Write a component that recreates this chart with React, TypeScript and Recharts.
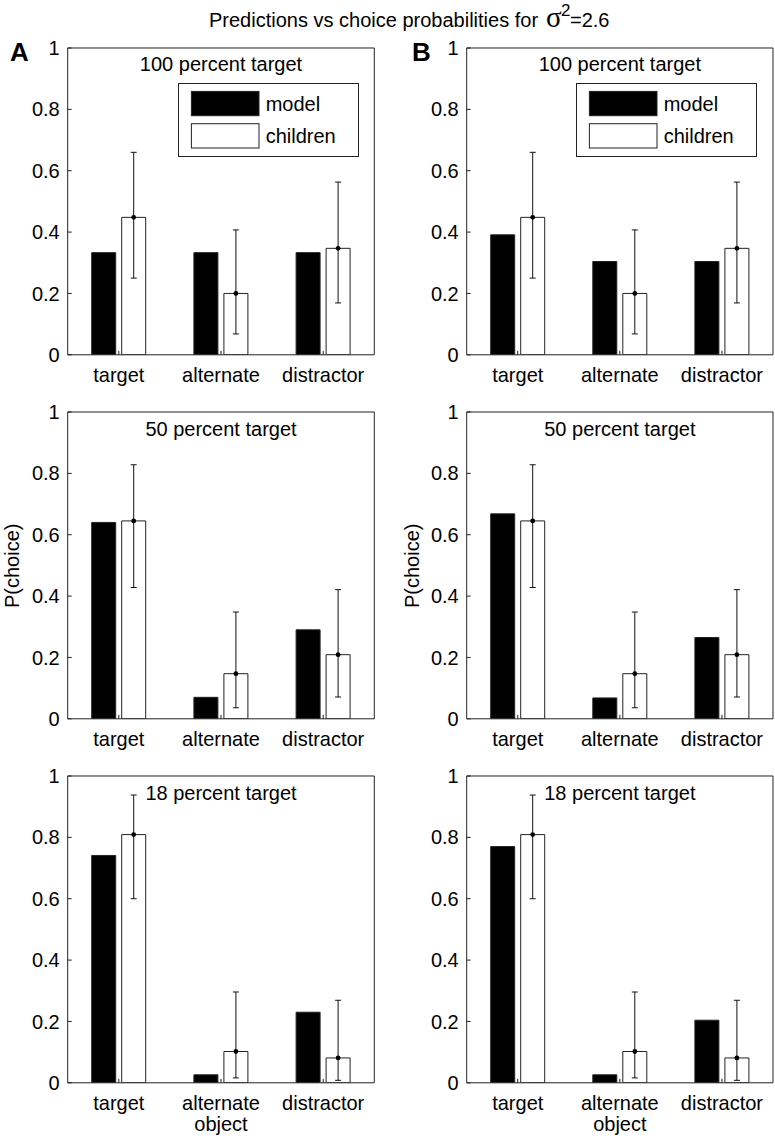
import React from 'react';
import { ComposedChart, Bar, Line, XAxis, YAxis, ErrorBar, LabelList, Legend } from 'recharts';

const FONT = '"Liberation Sans", Arial, Helvetica, sans-serif';

// ---------- data ----------
const categories = ['target', 'alternate', 'distractor'];
const categoriesLast = ['target', 'alternate\nobject', 'distractor'];
const yTicks = [0, 0.2, 0.4, 0.6, 0.8, 1];
const panelTitles = ['100 percent target', '50 percent target', '18 percent target'];
const seriesNames = ['model', 'children'];

const modelA100 = [0.333, 0.333, 0.333];
const modelB100 = [0.391, 0.304, 0.304];
const children100 = [0.448, 0.2, 0.347];
const children100Lo = [0.25, 0.068, 0.169];
const children100Hi = [0.66, 0.407, 0.563];

const modelA50 = [0.64, 0.07, 0.29];
const modelB50 = [0.668, 0.068, 0.265];
const children50 = [0.645, 0.147, 0.209];
const children50Lo = [0.428, 0.036, 0.071];
const children50Hi = [0.828, 0.348, 0.421];

const modelA18 = [0.741, 0.026, 0.23];
const modelB18 = [0.77, 0.026, 0.204];
const children18 = [0.809, 0.102, 0.081];
const children18Lo = [0.6, 0.016, 0.008];
const children18Hi = [0.938, 0.296, 0.269];

const modelSets = [
  [modelA100, modelA50, modelA18],
  [modelB100, modelB50, modelB18],
];
const childSets = [children100, children50, children18];
const childLoSets = [children100Lo, children50Lo, children18Lo];
const childHiSets = [children100Hi, children50Hi, children18Hi];

// ---------- layout ----------
const COLS = [
  { left: 0, axisW: 67.7, plotW: 306.6 },
  { left: 400, axisW: 66.7, plotW: 306.3 },
];
const ROW_TOPS = [47.8, 412.4, 776.1];
const PLOT_H = 306.8;
const TOP_M = 10;
const XAXIS_H = 56;
const CHART_H = TOP_M + PLOT_H + XAXIS_H;
const AXIS = '#222';

function buildRows(cats: string[], model: number[], kids: number[], lo: number[], hi: number[]) {
  return cats.map((c, i) => ({
    cat: c,
    model: model[i],
    children: kids[i],
    err: [kids[i] - lo[i], hi[i] - kids[i]],
  }));
}

const XTick = (props: any) => {
  const { x, y, payload } = props;
  const lines = String(payload.value).split('\n');
  return (
    <text x={x} y={y} textAnchor="middle" fontSize={20} fontFamily={FONT} fill="#000">
      {lines.map((l, i) => (
        <tspan key={i} x={x} dy={i === 0 ? 14.2 : 21}>
          {l}
        </tspan>
      ))}
    </text>
  );
};

const ValueDot = (props: any) => {
  const vb = props.viewBox || {};
  const x = vb.x ?? props.x;
  const y = vb.y ?? props.y;
  const w = vb.width ?? props.width;
  return <circle cx={x + w / 2} cy={y} r={2.4} fill="#000" />;
};

const LegendBox = () => (
  <svg width={181} height={74} style={{ display: 'block' }}>
    <rect x={0.5} y={0.5} width={180} height={73} fill="#fff" stroke={AXIS} strokeWidth={1} />
    <rect x={13.4} y={8.4} width={67.6} height={24.3} fill="#000" stroke={AXIS} />
    <text x={87.7} y={27.5} fontSize={20} fontFamily={FONT} fill="#000">{seriesNames[0]}</text>
    <rect x={13.4} y={40.7} width={67.6} height={24.3} fill="#fff" stroke={AXIS} />
    <text x={87.7} y={59.5} fontSize={20} fontFamily={FONT} fill="#000">{seriesNames[1]}</text>
  </svg>
);

function Panel({ col, row }: { col: number; row: number }) {
  const c = COLS[col];
  const top = ROW_TOPS[row] - TOP_M;
  const cats = row === 2 ? categoriesLast : categories;
  const data = buildRows(cats, modelSets[col][row], childSets[row], childLoSets[row], childHiSets[row]);
  const width = c.axisW + c.plotW + 2;
  const legendLeft = (col === 0 ? 178.3 : 575.7) - c.left;
  const legendTop = 83.3 - top;
  return (
    <div style={{ position: 'absolute', left: c.left, top }}>
      <ComposedChart
        width={width}
        height={CHART_H}
        data={data}
        margin={{ top: TOP_M - 1, right: 1, bottom: 0, left: 0 }}
        barSize={24}
        barGap={6}
      >
        <XAxis
          dataKey="cat"
          type="category"
          scale="band"
          height={XAXIS_H}
          interval={0}
          tickSize={-4}
          tickMargin={17.3}
          tick={XTick}
          axisLine={{ stroke: AXIS }}
          tickLine={{ stroke: AXIS }}
        />
        <XAxis
          xAxisId="top"
          orientation="top"
          dataKey="cat"
          type="category"
          scale="band"
          height={1}
          interval={0}
          tickSize={-4}
          tick={false}
          axisLine={{ stroke: AXIS }}
          tickLine={{ stroke: AXIS }}
        />
        <YAxis
          type="number"
          domain={[0, 1]}
          ticks={yTicks}
          interval={0}
          width={c.axisW}
          tickSize={-4}
          tickMargin={12}
          tick={{ fontSize: 20, fill: '#000', fontFamily: FONT }}
          axisLine={{ stroke: AXIS }}
          tickLine={{ stroke: AXIS }}
          allowDataOverflow
        />
        <YAxis
          yAxisId="right"
          orientation="right"
          type="number"
          domain={[0, 1]}
          ticks={yTicks}
          interval={0}
          width={1}
          tickSize={-4}
          tick={false}
          axisLine={{ stroke: AXIS }}
          tickLine={{ stroke: AXIS }}
          allowDataOverflow
        />
        {row === 0 && (
          <Legend
            layout="horizontal"
            align="center"
            verticalAlign="middle"
            content={() => <LegendBox />}
            wrapperStyle={{ position: 'absolute', left: legendLeft, top: legendTop, width: 181, height: 74 }}
          />
        )}
        <Bar dataKey="model" name={seriesNames[0]} fill="#000" stroke={AXIS} strokeWidth={1} isAnimationActive={false} />
        <Bar dataKey="children" name={seriesNames[1]} fill="#fff" stroke={AXIS} strokeWidth={1} isAnimationActive={false}>
          <ErrorBar dataKey="err" direction="y" width={3} stroke="#111" strokeWidth={1} isAnimationActive={false} />
          <LabelList dataKey="children" content={ValueDot} />
        </Bar>
        <Line
          xAxisId="top"
          yAxisId="right"
          dataKey="model"
          stroke="none"
          dot={false}
          activeDot={false}
          legendType="none"
          isAnimationActive={false}
        />
      </ComposedChart>
    </div>
  );
}

export default function App() {
  const panels = [];
  for (let col = 0; col < 2; col++) {
    for (let row = 0; row < 3; row++) {
      panels.push(<Panel key={`${col}-${row}`} col={col} row={row} />);
    }
  }
  const plotCenters = COLS.map((c) => c.left + c.axisW + c.plotW / 2);
  return (
    <div
      style={{
        position: 'absolute',
        left: 0,
        top: 0,
        width: 775,
        height: 1142,
        background: '#fff',
        overflow: 'hidden',
        fontFamily: FONT,
      }}
    >
      {panels}
      <svg
        width={775}
        height={1142}
        style={{ position: 'absolute', left: 0, top: 0, pointerEvents: 'none' }}
      >
        <text y={27} fontSize={20} fontFamily={FONT} fill="#000">
          <tspan x={209}>Predictions vs choice probabilities for </tspan>
          <tspan x={546} fontFamily='"Liberation Serif", "DejaVu Serif", serif' fontSize={29}>σ</tspan>
          <tspan x={561} y={15.5} fontSize={17}>2</tspan>
          <tspan x={570} y={27}>=2.6</tspan>
        </text>
        <text x={10} y={60.5} fontSize={26} fontWeight="bold" fontFamily={FONT} fill="#000">A</text>
        <text x={412} y={60.5} fontSize={26} fontWeight="bold" fontFamily={FONT} fill="#000">B</text>
        {ROW_TOPS.map((t, r) =>
          plotCenters.map((cx, ci) => (
            <text
              key={`t${r}-${ci}`}
              x={cx}
              y={t + 23.5}
              textAnchor="middle"
              fontSize={20}
              fontFamily={FONT}
              fill="#000"
            >
              {panelTitles[r]}
            </text>
          ))
        )}
        {[19, 419].map((x, i) => (
          <text
            key={`p${i}`}
            x={x}
            y={ROW_TOPS[1] + PLOT_H / 2}
            transform={`rotate(-90 ${x} ${ROW_TOPS[1] + PLOT_H / 2})`}
            textAnchor="middle"
            fontSize={20}
            fontFamily={FONT}
            fill="#000"
          >
            P(choice)
          </text>
        ))}
      </svg>
    </div>
  );
}
